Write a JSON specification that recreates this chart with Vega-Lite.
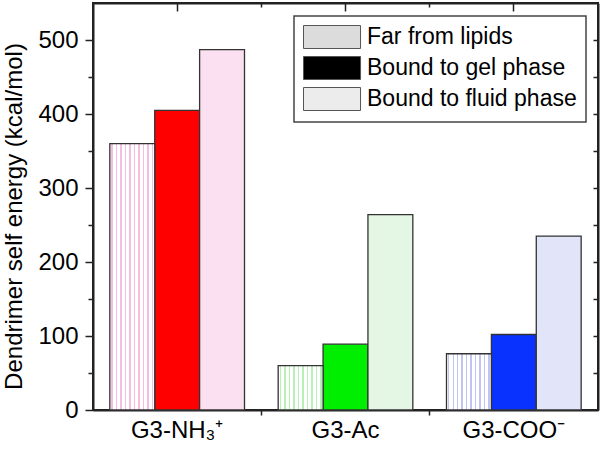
{
  "$schema": "https://vega.github.io/schema/vega-lite/v6.json",
  "width": 505,
  "height": 407,
  "autosize": {"type": "none"},
  "padding": {"left": 93, "top": 3, "right": 3, "bottom": 40},
  "background": "white",
  "config": {
    "view": {"stroke": "#222", "strokeWidth": 2},
    "font": "Liberation Sans",
    "axis": {
      "domainColor": "#222", "domainWidth": 2, "tickColor": "#222", "tickWidth": 1.5, "zindex": 1,
      "grid": false, "labelFont": "Liberation Sans", "titleFont": "Liberation Sans",
      "labelColor": "black", "titleColor": "black", "titleFontWeight": "normal"
    }
  },
  "data": {"values": [
    {"group": "G3-NH₃⁺", "type": "Far from lipids", "value": 360},
    {"group": "G3-NH₃⁺", "type": "Bound to gel phase", "value": 405},
    {"group": "G3-NH₃⁺", "type": "Bound to fluid phase", "value": 487},
    {"group": "G3-Ac", "type": "Far from lipids", "value": 60},
    {"group": "G3-Ac", "type": "Bound to gel phase", "value": 89},
    {"group": "G3-Ac", "type": "Bound to fluid phase", "value": 264},
    {"group": "G3-COO⁻", "type": "Far from lipids", "value": 76},
    {"group": "G3-COO⁻", "type": "Bound to gel phase", "value": 102},
    {"group": "G3-COO⁻", "type": "Bound to fluid phase", "value": 235}
  ]},
  "layer": [
    {
      "transform": [{"filter": "datum.type !== 'Far from lipids'"}],
      "mark": {"type": "bar", "stroke": "#333", "strokeWidth": 1.3},
      "encoding": {
        "x": {"field": "group", "type": "nominal", "sort": null,
          "scale": {"type": "band", "domain": ["G3-NH₃⁺", "G3-Ac", "G3-COO⁻"], "paddingInner": 0.2, "paddingOuter": 0.1},
          "axis": {"orient": "bottom", "title": null, "ticks": false, "tickSize": 0, "labelPadding": 8, "labelFontSize": 24, "labelAngle": 0, "domain": true}},
        "xOffset": {"field": "type", "type": "nominal",
          "scale": {"domain": ["Far from lipids", "Bound to gel phase", "Bound to fluid phase"], "paddingInner": 0, "paddingOuter": 0}},
        "y": {"field": "value", "type": "quantitative", "stack": null,
          "scale": {"domain": [0, 550], "nice": false, "zero": true},
          "axis": {"orient": "left", "title": "Dendrimer self energy (kcal/mol)", "values": [0, 100, 200, 300, 400, 500], "tickSize": 8, "labelPadding": 7, "labelFontSize": 24, "titleFontSize": 24, "titleAngle": -90, "titleX": -72, "titleY": 213, "titleAlign": "center", "titleBaseline": "alphabetic", "format": "d"}},
        "fill": {
          "condition": [
            {"test": "datum.type === 'Bound to gel phase' && datum.group === 'G3-NH₃⁺'", "value": "#ff0000"},
            {"test": "datum.type === 'Bound to gel phase' && datum.group === 'G3-Ac'", "value": "#00ee00"},
            {"test": "datum.type === 'Bound to gel phase' && datum.group === 'G3-COO⁻'", "value": "#0a32ff"},
            {"test": "datum.type === 'Bound to fluid phase' && datum.group === 'G3-NH₃⁺'", "value": "#fbe0f1"},
            {"test": "datum.type === 'Bound to fluid phase' && datum.group === 'G3-Ac'", "value": "#e4f7e4"}
          ],
          "value": "#e2e4f9"
        }
      }
    },
    {
      "transform": [{"filter": "datum.type === 'Far from lipids' && datum.group === 'G3-NH₃⁺'"}],
      "mark": {"type": "bar", "stroke": "#333", "strokeWidth": 1.3,
        "fill": {"gradient": "linear", "x1": 0, "y1": 0, "x2": 1, "y2": 0, "stops": [
          {"offset": 0, "color": "white"},
          {"offset": 0.034, "color": "white"}, {"offset": 0.034, "color": "#f5bde0"}, {"offset": 0.066, "color": "#f5bde0"}, {"offset": 0.066, "color": "white"},
          {"offset": 0.134, "color": "white"}, {"offset": 0.134, "color": "#f5bde0"}, {"offset": 0.166, "color": "#f5bde0"}, {"offset": 0.166, "color": "white"},
          {"offset": 0.234, "color": "white"}, {"offset": 0.234, "color": "#f5bde0"}, {"offset": 0.266, "color": "#f5bde0"}, {"offset": 0.266, "color": "white"},
          {"offset": 0.334, "color": "white"}, {"offset": 0.334, "color": "#f5bde0"}, {"offset": 0.366, "color": "#f5bde0"}, {"offset": 0.366, "color": "white"},
          {"offset": 0.434, "color": "white"}, {"offset": 0.434, "color": "#f5bde0"}, {"offset": 0.466, "color": "#f5bde0"}, {"offset": 0.466, "color": "white"},
          {"offset": 0.534, "color": "white"}, {"offset": 0.534, "color": "#f5bde0"}, {"offset": 0.566, "color": "#f5bde0"}, {"offset": 0.566, "color": "white"},
          {"offset": 0.634, "color": "white"}, {"offset": 0.634, "color": "#f5bde0"}, {"offset": 0.666, "color": "#f5bde0"}, {"offset": 0.666, "color": "white"},
          {"offset": 0.734, "color": "white"}, {"offset": 0.734, "color": "#f5bde0"}, {"offset": 0.766, "color": "#f5bde0"}, {"offset": 0.766, "color": "white"},
          {"offset": 0.834, "color": "white"}, {"offset": 0.834, "color": "#f5bde0"}, {"offset": 0.866, "color": "#f5bde0"}, {"offset": 0.866, "color": "white"},
          {"offset": 0.934, "color": "white"}, {"offset": 0.934, "color": "#f5bde0"}, {"offset": 0.966, "color": "#f5bde0"}, {"offset": 0.966, "color": "white"},
          {"offset": 1, "color": "white"}
        ]}},
      "encoding": {
        "x": {"field": "group", "type": "nominal", "sort": null,
          "scale": {"type": "band", "domain": ["G3-NH₃⁺", "G3-Ac", "G3-COO⁻"], "paddingInner": 0.2, "paddingOuter": 0.1},
          "axis": {"orient": "bottom", "labels": false, "title": null, "domain": false, "tickSize": 5, "bandPosition": -0.125, "values": ["G3-Ac", "G3-COO⁻"]}},
        "xOffset": {"field": "type", "type": "nominal",
          "scale": {"domain": ["Far from lipids", "Bound to gel phase", "Bound to fluid phase"], "paddingInner": 0, "paddingOuter": 0}},
        "y": {"field": "value", "type": "quantitative", "stack": null,
          "scale": {"domain": [0, 550], "nice": false, "zero": true},
          "axis": {"orient": "left", "labels": false, "title": null, "domain": false, "tickSize": 5, "values": [50, 150, 250, 350, 450]}}
      }
    },
    {
      "transform": [{"filter": "datum.type === 'Far from lipids' && datum.group === 'G3-Ac'"}],
      "mark": {"type": "bar", "stroke": "#333", "strokeWidth": 1.3,
        "fill": {"gradient": "linear", "x1": 0, "y1": 0, "x2": 1, "y2": 0, "stops": [
          {"offset": 0, "color": "white"},
          {"offset": 0.034, "color": "white"}, {"offset": 0.034, "color": "#b8f0b8"}, {"offset": 0.066, "color": "#b8f0b8"}, {"offset": 0.066, "color": "white"},
          {"offset": 0.134, "color": "white"}, {"offset": 0.134, "color": "#b8f0b8"}, {"offset": 0.166, "color": "#b8f0b8"}, {"offset": 0.166, "color": "white"},
          {"offset": 0.234, "color": "white"}, {"offset": 0.234, "color": "#b8f0b8"}, {"offset": 0.266, "color": "#b8f0b8"}, {"offset": 0.266, "color": "white"},
          {"offset": 0.334, "color": "white"}, {"offset": 0.334, "color": "#b8f0b8"}, {"offset": 0.366, "color": "#b8f0b8"}, {"offset": 0.366, "color": "white"},
          {"offset": 0.434, "color": "white"}, {"offset": 0.434, "color": "#b8f0b8"}, {"offset": 0.466, "color": "#b8f0b8"}, {"offset": 0.466, "color": "white"},
          {"offset": 0.534, "color": "white"}, {"offset": 0.534, "color": "#b8f0b8"}, {"offset": 0.566, "color": "#b8f0b8"}, {"offset": 0.566, "color": "white"},
          {"offset": 0.634, "color": "white"}, {"offset": 0.634, "color": "#b8f0b8"}, {"offset": 0.666, "color": "#b8f0b8"}, {"offset": 0.666, "color": "white"},
          {"offset": 0.734, "color": "white"}, {"offset": 0.734, "color": "#b8f0b8"}, {"offset": 0.766, "color": "#b8f0b8"}, {"offset": 0.766, "color": "white"},
          {"offset": 0.834, "color": "white"}, {"offset": 0.834, "color": "#b8f0b8"}, {"offset": 0.866, "color": "#b8f0b8"}, {"offset": 0.866, "color": "white"},
          {"offset": 0.934, "color": "white"}, {"offset": 0.934, "color": "#b8f0b8"}, {"offset": 0.966, "color": "#b8f0b8"}, {"offset": 0.966, "color": "white"},
          {"offset": 1, "color": "white"}
        ]}},
      "encoding": {
        "x": {"field": "group", "type": "nominal", "sort": null,
          "scale": {"type": "band", "domain": ["G3-NH₃⁺", "G3-Ac", "G3-COO⁻"], "paddingInner": 0.2, "paddingOuter": 0.1},
          "axis": {"orient": "top", "labels": false, "title": null, "domain": true, "ticks": false, "tickSize": 0}},
        "xOffset": {"field": "type", "type": "nominal",
          "scale": {"domain": ["Far from lipids", "Bound to gel phase", "Bound to fluid phase"], "paddingInner": 0, "paddingOuter": 0}},
        "y": {"field": "value", "type": "quantitative", "stack": null,
          "scale": {"domain": [0, 550], "nice": false, "zero": true},
          "axis": {"orient": "right", "labels": false, "title": null, "domain": true, "ticks": false, "tickSize": 0}}
      }
    },
    {
      "transform": [{"filter": "datum.type === 'Far from lipids' && datum.group === 'G3-COO⁻'"}],
      "mark": {"type": "bar", "stroke": "#333", "strokeWidth": 1.3,
        "fill": {"gradient": "linear", "x1": 0, "y1": 0, "x2": 1, "y2": 0, "stops": [
          {"offset": 0, "color": "white"},
          {"offset": 0.034, "color": "white"}, {"offset": 0.034, "color": "#c0c4f2"}, {"offset": 0.066, "color": "#c0c4f2"}, {"offset": 0.066, "color": "white"},
          {"offset": 0.134, "color": "white"}, {"offset": 0.134, "color": "#c0c4f2"}, {"offset": 0.166, "color": "#c0c4f2"}, {"offset": 0.166, "color": "white"},
          {"offset": 0.234, "color": "white"}, {"offset": 0.234, "color": "#c0c4f2"}, {"offset": 0.266, "color": "#c0c4f2"}, {"offset": 0.266, "color": "white"},
          {"offset": 0.334, "color": "white"}, {"offset": 0.334, "color": "#c0c4f2"}, {"offset": 0.366, "color": "#c0c4f2"}, {"offset": 0.366, "color": "white"},
          {"offset": 0.434, "color": "white"}, {"offset": 0.434, "color": "#c0c4f2"}, {"offset": 0.466, "color": "#c0c4f2"}, {"offset": 0.466, "color": "white"},
          {"offset": 0.534, "color": "white"}, {"offset": 0.534, "color": "#c0c4f2"}, {"offset": 0.566, "color": "#c0c4f2"}, {"offset": 0.566, "color": "white"},
          {"offset": 0.634, "color": "white"}, {"offset": 0.634, "color": "#c0c4f2"}, {"offset": 0.666, "color": "#c0c4f2"}, {"offset": 0.666, "color": "white"},
          {"offset": 0.734, "color": "white"}, {"offset": 0.734, "color": "#c0c4f2"}, {"offset": 0.766, "color": "#c0c4f2"}, {"offset": 0.766, "color": "white"},
          {"offset": 0.834, "color": "white"}, {"offset": 0.834, "color": "#c0c4f2"}, {"offset": 0.866, "color": "#c0c4f2"}, {"offset": 0.866, "color": "white"},
          {"offset": 0.934, "color": "white"}, {"offset": 0.934, "color": "#c0c4f2"}, {"offset": 0.966, "color": "#c0c4f2"}, {"offset": 0.966, "color": "white"},
          {"offset": 1, "color": "white"}
        ]}},
      "encoding": {
        "x": {"field": "group", "type": "nominal", "sort": null,
          "scale": {"type": "band", "domain": ["G3-NH₃⁺", "G3-Ac", "G3-COO⁻"], "paddingInner": 0.2, "paddingOuter": 0.1},
          "axis": {"orient": "top", "labels": false, "title": null, "domain": false, "tickSize": -8}},
        "xOffset": {"field": "type", "type": "nominal",
          "scale": {"domain": ["Far from lipids", "Bound to gel phase", "Bound to fluid phase"], "paddingInner": 0, "paddingOuter": 0}},
        "y": {"field": "value", "type": "quantitative", "stack": null,
          "scale": {"domain": [0, 550], "nice": false, "zero": true},
          "axis": {"orient": "right", "labels": false, "title": null, "domain": false, "tickSize": -5, "values": [50, 100, 150, 200, 250, 300, 350, 400, 450, 500]}}
      }
    },
    {
      "transform": [{"filter": "false"}],
      "mark": {"type": "bar", "stroke": "#555", "strokeWidth": 1},
      "encoding": {
        "x": {"field": "group", "type": "nominal", "sort": null,
          "scale": {"type": "band", "domain": ["G3-NH₃⁺", "G3-Ac", "G3-COO⁻"], "paddingInner": 0.2, "paddingOuter": 0.1},
          "axis": {"orient": "top", "labels": false, "title": null, "domain": false, "tickSize": -4, "bandPosition": -0.125, "values": ["G3-Ac", "G3-COO⁻"]}},
        "xOffset": {"field": "type", "type": "nominal",
          "scale": {"domain": ["Far from lipids", "Bound to gel phase", "Bound to fluid phase"], "paddingInner": 0, "paddingOuter": 0}},
        "y": {"field": "value", "type": "quantitative", "stack": null,
          "scale": {"domain": [0, 550], "nice": false, "zero": true},
          "axis": null},
        "fill": {"field": "type", "type": "nominal",
          "scale": {"domain": ["Far from lipids", "Bound to gel phase", "Bound to fluid phase"], "range": ["#dcdcdc", "#000000", "#ececec"]},
          "legend": {"orient": "none", "legendX": 201, "legendY": 13, "title": null,
            "symbolType": "M-1,-1H3.96V1H-1Z", "symbolSize": 529, "symbolStrokeColor": "#555", "symbolStrokeWidth": 1,
            "labelFontSize": 23, "labelFont": "Liberation Sans", "labelColor": "black", "labelOffset": 40, "labelLimit": 400,
            "padding": 9, "rowPadding": 3, "strokeColor": "#444", "fillColor": "white",
            "encode": {"legend": {"update": {"strokeWidth": {"value": 1.5}}}}}}
      }
    }
  ],
  "resolve": {"scale": {"x": "independent", "y": "independent", "xOffset": "independent"}, "axis": {"x": "independent", "y": "independent"}}
}
